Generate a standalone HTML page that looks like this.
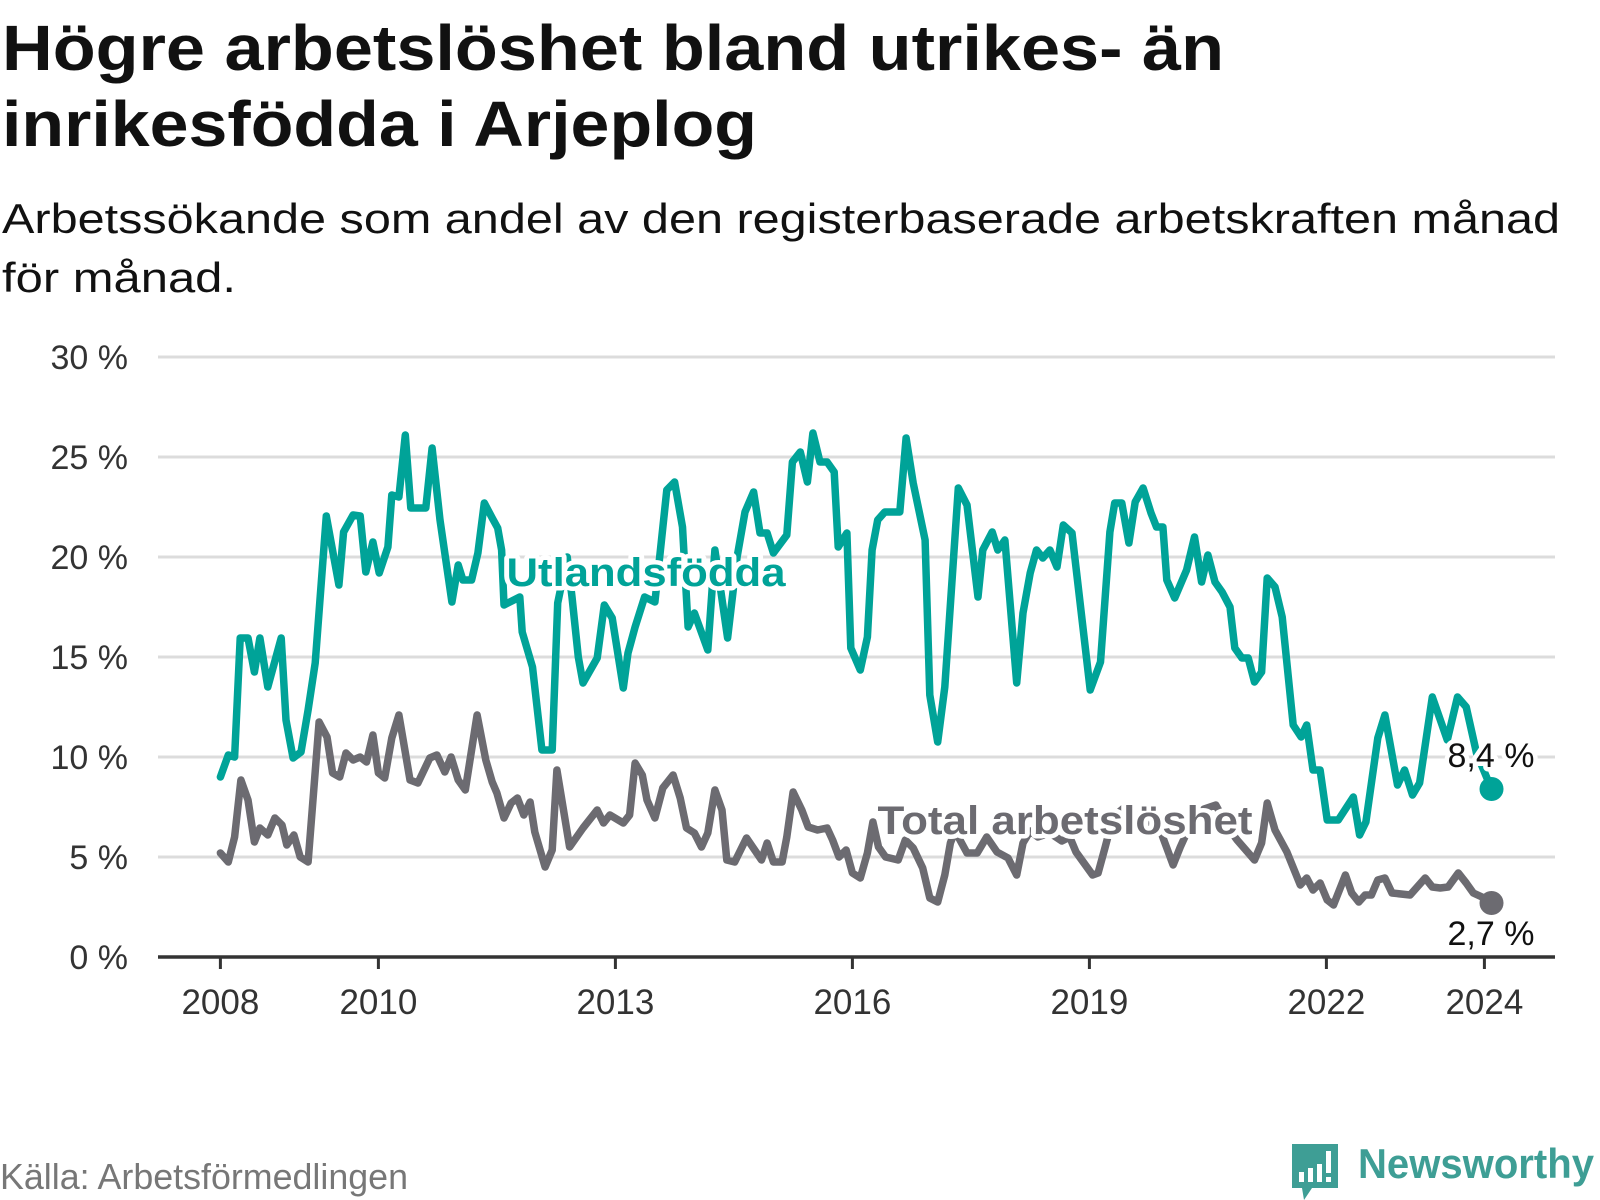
<!DOCTYPE html>
<html><head><meta charset="utf-8">
<style>
html,body{margin:0;padding:0;background:#fff;}
svg{display:block;font-family:"Liberation Sans",sans-serif;}
</style></head>
<body>
<svg id="chart" width="1600" height="1200" viewBox="0 0 1600 1200" xmlns="http://www.w3.org/2000/svg">
  <text x="2" y="70" font-size="64" font-weight="bold" fill="#111" textLength="1222" lengthAdjust="spacingAndGlyphs">Högre arbetslöshet bland utrikes- än</text>
  <text x="2" y="146" font-size="64" font-weight="bold" fill="#111" textLength="755" lengthAdjust="spacingAndGlyphs">inrikesfödda i Arjeplog</text>
  <text x="2" y="233" font-size="42" fill="#111" textLength="1558" lengthAdjust="spacingAndGlyphs">Arbetssökande som andel av den registerbaserade arbetskraften månad</text>
  <text x="2" y="292" font-size="42" fill="#111" textLength="234" lengthAdjust="spacingAndGlyphs">för månad.</text>
  <g id="grid"></g>
  <g id="yticks"></g>
  <g id="xaxis"></g>
  <g id="series"></g>
  <g id="labels"></g>
  <text x="0" y="1189" font-size="36" fill="#777" textLength="408" lengthAdjust="spacingAndGlyphs">Källa: Arbetsförmedlingen</text>
  <g>
    <path d="M1292 1144 h46 v44 h-26 l-8 12 l-2 -12 h-10 z" fill="#3e9e95"/>
    <rect x="1299" y="1172" width="5" height="10" fill="#fff"/>
    <rect x="1308" y="1168" width="5" height="14" fill="#fff"/>
    <rect x="1317" y="1164" width="5" height="18" fill="#fff"/>
    <rect x="1326" y="1151" width="5" height="22" fill="#fff"/>
    <rect x="1326" y="1177" width="5" height="5" fill="#fff"/>
    <text x="1358" y="1178" font-size="42" font-weight="bold" fill="#3e9e95" textLength="236" lengthAdjust="spacingAndGlyphs">Newsworthy</text>
  </g>
</svg>
<script>
// ---- data ----
const yTicks = [0, 5, 10, 15, 20, 25, 30];
const yTickLabels = ["0 %", "5 %", "10 %", "15 %", "20 %", "25 %", "30 %"];
const xTicks = [2008, 2010, 2013, 2016, 2019, 2022, 2024];
const xTickLabels = ["2008", "2010", "2013", "2016", "2019", "2022", "2024"];
const foreignDates = [2008.0,2008.1,2008.18,2008.25,2008.35,2008.43,2008.5,2008.6,2008.77,2008.83,2008.92,2009.02,2009.11,2009.2,2009.34,2009.5,2009.56,2009.68,2009.77,2009.84,2009.93,2010.01,2010.12,2010.17,2010.26,2010.34,2010.41,2010.6,2010.68,2010.78,2010.93,2011.01,2011.07,2011.18,2011.26,2011.34,2011.44,2011.51,2011.56,2011.59,2011.79,2011.82,2011.95,2012.07,2012.2,2012.27,2012.39,2012.45,2012.53,2012.59,2012.77,2012.86,2012.96,2013.1,2013.16,2013.25,2013.37,2013.5,2013.65,2013.75,2013.85,2013.92,2014.0,2014.17,2014.26,2014.42,2014.54,2014.64,2014.75,2014.83,2014.92,2015.0,2015.17,2015.24,2015.34,2015.43,2015.5,2015.59,2015.68,2015.77,2015.82,2015.93,2015.98,2016.1,2016.19,2016.25,2016.32,2016.41,2016.6,2016.68,2016.77,2016.92,2016.98,2017.08,2017.17,2017.34,2017.45,2017.59,2017.65,2017.77,2017.84,2017.93,2018.08,2018.16,2018.25,2018.33,2018.41,2018.5,2018.59,2018.67,2018.78,2019.01,2019.14,2019.26,2019.32,2019.41,2019.5,2019.58,2019.68,2019.78,2019.85,2019.93,2019.98,2020.08,2020.23,2020.33,2020.42,2020.5,2020.59,2020.68,2020.78,2020.84,2020.93,2021.01,2021.09,2021.18,2021.25,2021.35,2021.44,2021.58,2021.68,2021.75,2021.83,2021.92,2022.01,2022.15,2022.34,2022.42,2022.5,2022.65,2022.74,2022.9,2022.99,2023.09,2023.18,2023.34,2023.53,2023.66,2023.77,2023.9,2024.09];
const foreignValues = [9.0,10.1,10.0,15.95,15.95,14.25,15.95,13.5,15.95,11.85,9.95,10.25,12.35,14.7,22.05,18.6,21.25,22.1,22.05,19.25,20.75,19.2,20.5,23.1,23.0,26.1,22.45,22.45,25.45,21.85,17.75,19.6,18.85,18.85,20.2,22.7,21.95,21.45,20.35,17.6,18.0,16.25,14.5,10.35,10.35,17.7,20.0,18.0,15.0,13.7,14.95,17.6,16.95,13.45,15.2,16.5,18.0,17.75,23.35,23.75,21.5,16.5,17.2,15.35,20.35,15.95,20.0,22.25,23.25,21.2,21.2,20.2,21.1,24.75,25.25,23.75,26.2,24.75,24.75,24.25,20.5,21.2,15.45,14.35,16.0,20.35,21.85,22.25,22.25,25.95,23.7,20.85,13.1,10.75,13.5,23.45,22.6,18.0,20.35,21.25,20.35,20.85,13.7,17.2,19.2,20.35,19.95,20.35,19.5,21.6,21.2,13.35,14.75,21.25,22.7,22.7,20.7,22.75,23.45,22.2,21.5,21.5,18.85,17.95,19.35,21.0,18.75,20.1,18.75,18.25,17.5,15.45,14.95,14.95,13.75,14.25,18.95,18.5,17.0,11.6,11.0,11.6,9.35,9.35,6.85,6.85,8.0,6.1,6.75,10.95,12.1,8.6,9.35,8.1,8.7,13.0,10.85,13.0,12.5,10.2,8.4];
const totalDates = [2008.0,2008.1,2008.18,2008.26,2008.35,2008.43,2008.5,2008.6,2008.69,2008.78,2008.84,2008.93,2009.01,2009.11,2009.25,2009.35,2009.42,2009.51,2009.59,2009.68,2009.77,2009.85,2009.93,2010.0,2010.08,2010.17,2010.26,2010.4,2010.5,2010.65,2010.74,2010.84,2010.92,2011.01,2011.1,2011.25,2011.36,2011.44,2011.5,2011.59,2011.68,2011.76,2011.84,2011.92,2011.98,2012.11,2012.2,2012.26,2012.42,2012.59,2012.77,2012.85,2012.93,2013.1,2013.18,2013.25,2013.34,2013.4,2013.5,2013.6,2013.73,2013.82,2013.9,2014.0,2014.09,2014.17,2014.26,2014.35,2014.41,2014.51,2014.66,2014.85,2014.92,2015.0,2015.11,2015.17,2015.25,2015.36,2015.44,2015.56,2015.68,2015.75,2015.83,2015.92,2016.0,2016.1,2016.19,2016.26,2016.33,2016.42,2016.58,2016.67,2016.77,2016.89,2016.98,2017.08,2017.17,2017.24,2017.3,2017.45,2017.58,2017.7,2017.83,2017.97,2018.08,2018.16,2018.25,2018.35,2018.5,2018.65,2018.75,2018.83,2019.04,2019.11,2019.2,2019.3,2019.45,2019.6,2019.75,2019.9,2019.98,2020.06,2020.15,2020.3,2020.45,2020.6,2020.75,2020.87,2021.09,2021.18,2021.25,2021.35,2021.5,2021.67,2021.75,2021.83,2021.92,2022.01,2022.09,2022.24,2022.32,2022.41,2022.49,2022.57,2022.65,2022.74,2022.83,2023.06,2023.25,2023.34,2023.44,2023.54,2023.67,2023.77,2023.86,2023.97,2024.09];
const totalValues = [5.2,4.75,6.0,8.85,7.85,5.75,6.45,6.1,6.95,6.6,5.6,6.1,5.0,4.75,11.75,11.0,9.2,9.0,10.2,9.85,10.0,9.75,11.1,9.2,8.95,10.95,12.1,8.85,8.7,9.95,10.1,9.25,10.0,8.85,8.35,12.1,9.85,8.75,8.2,6.95,7.7,7.95,7.1,7.75,6.25,4.5,5.35,9.35,5.5,6.45,7.35,6.7,7.1,6.7,7.1,9.7,9.1,7.85,6.95,8.45,9.1,7.95,6.45,6.2,5.5,6.2,8.35,7.35,4.85,4.75,5.95,4.85,5.7,4.75,4.75,6.0,8.25,7.35,6.5,6.35,6.45,5.85,5.0,5.35,4.2,3.95,5.2,6.75,5.5,5.0,4.85,5.85,5.45,4.45,2.95,2.75,4.1,5.7,6.3,5.2,5.2,6.0,5.25,4.95,4.1,5.7,6.3,6.0,6.2,5.8,6.0,5.25,4.1,4.2,5.5,7.0,7.5,7.2,6.8,6.3,5.45,4.6,5.5,6.8,7.4,7.6,6.5,5.85,4.85,5.7,7.7,6.35,5.25,3.6,3.95,3.35,3.7,2.85,2.6,4.1,3.2,2.75,3.1,3.1,3.85,3.95,3.2,3.1,3.95,3.5,3.45,3.5,4.2,3.7,3.2,3.0,2.7];
const endLabels = ["8,4 %", "2,7 %"];

// ---- scales ----
const NS = "http://www.w3.org/2000/svg";
const X0 = 220.4, PXY = 79.0, Y0 = 957, PXV = 20;
const xScale = t => X0 + (t - 2008) * PXY;
const yScale = v => Y0 - v * PXV;
function mk(tag, attrs, parent){const e=document.createElementNS(NS,tag);for(const k in attrs)e.setAttribute(k,attrs[k]);parent.appendChild(e);return e;}

const grid = document.getElementById('grid');
const yt = document.getElementById('yticks');
yTicks.forEach((v,i)=>{
  if (v !== 0) {
    const l = mk('line',{x1:158,x2:1555,y1:yScale(v),y2:yScale(v),stroke:'#dcdcdc','stroke-width':3},grid);
    
    
  }
  const t = mk('text',{x:128,y:yScale(v)+12,'font-size':34,'text-anchor':'end',fill:'#333'},yt);
  t.textContent = yTickLabels[i];
  
  
});
const xa = document.getElementById('xaxis');
const axl = mk('line',{x1:158,x2:1555,y1:Y0,y2:Y0,stroke:'#333','stroke-width':3.5},xa);


xTicks.forEach((yr,i)=>{
  const tk = mk('line',{x1:xScale(yr),x2:xScale(yr),y1:Y0,y2:Y0+12,stroke:'#333','stroke-width':3},xa);
  
  
  const t = mk('text',{x:xScale(yr),y:1014,'font-size':35,'text-anchor':'middle',fill:'#333'},xa);
  t.textContent = xTickLabels[i];
  
  
});

const ser = document.getElementById('series');
function drawLine(dates, vals, color, name){
  const d = dates.map((t,i)=>(i?'L':'M')+xScale(t).toFixed(1)+' '+yScale(vals[i]).toFixed(1)).join(' ');
  const p = mk('path',{d:d,fill:'none',stroke:color,'stroke-width':7.5,'stroke-linejoin':'round','stroke-linecap':'round'},ser);
  
  
  const n = dates.length-1;
  const c = mk('circle',{cx:xScale(dates[n]),cy:yScale(vals[n]),r:12,fill:color},ser);
  
  
}
drawLine(totalDates,totalValues,'#6c6b71','total');
drawLine(foreignDates,foreignValues,'#00a398','foreign-born');

const lab = document.getElementById('labels');
function label(x,y,txt,color,size,weight,anchor,name,len){
  const attrs = {x:x,y:y,'font-size':size,'font-weight':weight,'text-anchor':anchor,fill:color,stroke:'#fff','stroke-width':9,'stroke-linejoin':'round','paint-order':'stroke'};
  if (len) { attrs.textLength = len; attrs.lengthAdjust = 'spacingAndGlyphs'; }
  const t = mk('text',attrs,lab);
  t.textContent = txt;
  
  
}
label(646,586,'Utlandsfödda','#00a398',40,'bold','middle','foreign-born-series-label',279);
label(1065,834,'Total arbetslöshet','#6c6b71',40,'bold','middle','total-series-label',375);
const nF = foreignDates.length-1, nT = totalDates.length-1;
label(1491,yScale(foreignValues[nF])-22,endLabels[0],'#111',34,'normal','middle','foreign-born-end-value');
label(1491,yScale(totalValues[nT])+42,endLabels[1],'#111',34,'normal','middle','total-end-value');
</script>
</body></html>
